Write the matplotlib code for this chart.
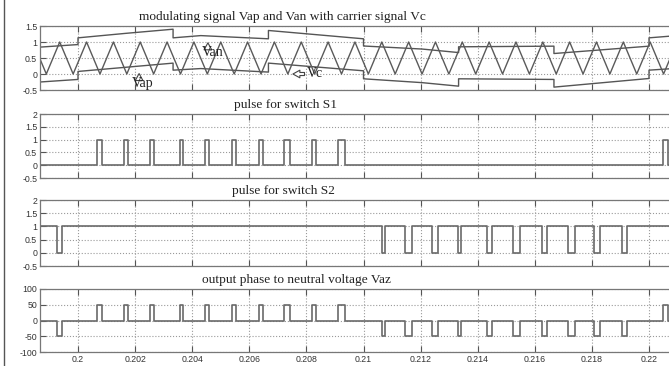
import numpy as np
import matplotlib
matplotlib.use("Agg")
import matplotlib.pyplot as plt
from matplotlib.lines import Line2D

# ---- data ----
# modulating signals (sector breakpoints, jumps every 1/300 s)
mod_t = [0.19867, 0.2, 0.2, 0.20167, 0.20333, 0.20333, 0.2043, 0.20667, 0.20667,
         0.21, 0.21, 0.21205, 0.21333, 0.21333, 0.21667, 0.21667, 0.22, 0.22, 0.22084]
van = [0.84, 0.92, 1.13, 1.27, 1.40, 1.13, 1.20, 1.10, 1.36,
       1.10, 0.875, 0.78, 0.67, 0.85, 0.87, 0.64, 0.87, 1.13, 1.19]
vap = [-0.25, -0.17, 0.08, 0.21, 0.34, 0.12, 0.17, 0.06, 0.34,
       0.10, -0.15, -0.27, -0.38, -0.15, -0.17, -0.41, -0.14, 0.12, 0.17]

# carrier vertices (peak, trough, peak, ...)
carrier_t = [0.19842, 0.19889, 0.19936, 0.19983, 0.20030, 0.20077, 0.20124, 0.20171,
             0.20218, 0.20265, 0.20312, 0.20359, 0.20406, 0.20453, 0.20500, 0.20547,
             0.20594, 0.20641, 0.20688, 0.20735, 0.20782, 0.20829, 0.20876, 0.20923,
             0.20970, 0.21017, 0.21064, 0.21111, 0.21158, 0.21205, 0.21252, 0.21299,
             0.21346, 0.21393, 0.21440, 0.21487, 0.21534, 0.21581, 0.21628, 0.21675,
             0.21722, 0.21769, 0.21816, 0.21863, 0.21910, 0.21957, 0.22004, 0.22051,
             0.22098]
carrier_v = [1, 0] * 24 + [1]

# S1 on-pulses (start, end)
s1_on = [(0.200676, 0.200830), (0.201611, 0.201762), (0.202522, 0.202662),
         (0.203573, 0.203667), (0.204448, 0.204599), (0.205384, 0.205524),
         (0.206340, 0.206490), (0.207226, 0.207426), (0.208186, 0.208326),
         (0.209117, 0.209352), (0.220501, 0.220648)]
# S2 off-pulses (start, end)
s2_off = [(0.199275, 0.199429), (0.210637, 0.210753), (0.211454, 0.211688),
          (0.212389, 0.212620), (0.213300, 0.213415), (0.214315, 0.214491),
          (0.215247, 0.215482), (0.216242, 0.216417), (0.217174, 0.217408),
          (0.218084, 0.218284), (0.219044, 0.219219)]
vdc_half = 50

xlo, xhi = 0.198669, 0.22084
xticks = [0.2, 0.202, 0.204, 0.206, 0.208, 0.21, 0.212, 0.214, 0.216, 0.218, 0.22]


def pulse_line(pulses, base, level):
    x, y = [xlo], [base]
    for a, b in pulses:
        x += [a, a, b, b]
        y += [base, level, level, base]
    x.append(xhi)
    y.append(base)
    return x, y


W, H = 669, 366
fig = plt.figure(figsize=(W / 100, H / 100), dpi=100)
fig.patch.set_facecolor("white")

# panel extents in pixels (top, bottom)
boxes = [(26, 90), (114, 178), (200, 266), (289, 352)]
left_px, right_px = 40, 673
axs = []
for top, bot in boxes:
    ax = fig.add_axes([left_px / W, 1 - bot / H, (right_px - left_px) / W, (bot - top) / H])
    axs.append(ax)

titles = ["modulating signal Vap and Van with carrier signal Vc",
          "pulse for switch S1", "pulse for switch S2",
          "output phase to neutral voltage Vaz"]
title_px = [282, 285, 283, 296]

gray_line = "#6a6a6a"
for i, ax in enumerate(axs):
    ax.set_xlim(xlo, xhi)
    ax.set_xticks(xticks)
    ax.grid(True, linestyle=":", color="#9a9a9a", linewidth=0.8)
    ax.tick_params(direction="in", length=4, top=True, bottom=True, left=True,
                   right=False, labelsize=6.3, colors="#555555", labelcolor="#333333",
                   pad=2)
    for s in ax.spines.values():
        s.set_color("#777777")
        s.set_linewidth(0.9)
    if i < 3:
        ax.set_xticklabels([])
    tx = (title_px[i] - left_px) / (right_px - left_px)
    ax.text(tx, 1.04, titles[i], transform=ax.transAxes, ha="center",
            va="bottom", family="Liberation Serif", fontsize=9.6, color="#222222")

# panel 1
ax = axs[0]
ax.plot(mod_t, van, color="#555555", lw=1.0)
ax.plot(mod_t, vap, color="#555555", lw=1.0)
ax.plot(carrier_t, carrier_v, color="#5a5a5a", lw=1.0)
ax.set_ylim(-0.5, 1.5)
ax.set_yticks([-0.5, 0, 0.5, 1, 1.5])
ax.set_yticklabels(["-0.5", "0", "0.5", "1", "1.5"], family="Liberation Sans")

arrow = dict(arrowstyle="simple,head_width=0.55,head_length=0.5,tail_width=0.22",
             fc="white", ec="#444444", lw=0.8)
lab_kw = dict(family="Liberation Serif", fontsize=10, ha="left", va="center",
              color="#222222")
ax.annotate("", xy=(0.20214, 0.10), xytext=(0.20214, -0.14), arrowprops=arrow)
ax.text(0.20189, -0.29, "Vap", **lab_kw)
ax.annotate("", xy=(0.20455, 1.06), xytext=(0.20455, 0.82), arrowprops=arrow)
ax.text(0.20434, 0.66, "Van", **lab_kw)
ax.annotate("", xy=(0.20743, 0.0), xytext=(0.20803, 0.0), arrowprops=arrow)
ax.text(0.20803, 0.02, "Vc", **lab_kw)

# panel 2
ax = axs[1]
x, y = pulse_line(s1_on, 0, 1)
ax.plot(x, y, color=gray_line, lw=1.2)
ax.set_ylim(-0.5, 2)
ax.set_yticks([-0.5, 0, 0.5, 1, 1.5, 2])
ax.set_yticklabels(["-0.5", "0", "0.5", "1", "1.5", "2"], family="Liberation Sans")

# panel 3
ax = axs[2]
x, y = pulse_line(s2_off, 1, 0)
ax.plot(x, y, color=gray_line, lw=1.2)
ax.set_ylim(-0.5, 2)
ax.set_yticks([-0.5, 0, 0.5, 1, 1.5, 2])
ax.set_yticklabels(["-0.5", "0", "0.5", "1", "1.5", "2"], family="Liberation Sans")

# panel 4: Vaz = Vdc/2 * (S1 - (1 - S2))
ax = axs[3]
events = sorted([(a, b, vdc_half) for a, b in s1_on] + [(a, b, -vdc_half) for a, b in s2_off])
vx, vy = [xlo], [0]
for a, b, lv in events:
    vx += [a, a, b, b]
    vy += [0, lv, lv, 0]
vx.append(xhi)
vy.append(0)
ax.plot(vx, vy, color=gray_line, lw=1.2)
ax.set_ylim(-100, 100)
ax.set_yticks([-100, -50, 0, 50, 100])
ax.set_yticklabels(["-100", "-50", "0", "50", "100"], family="Liberation Sans")
ax.set_xticklabels(["0.2", "0.202", "0.204", "0.206", "0.208", "0.21", "0.212",
                    "0.214", "0.216", "0.218", "0.22"], family="Liberation Sans")

# window edge on the left
fig.add_artist(Line2D([4 / W, 4 / W], [0, 1], color="#555555", lw=1.0))

fig.savefig("out.png", dpi=100)
